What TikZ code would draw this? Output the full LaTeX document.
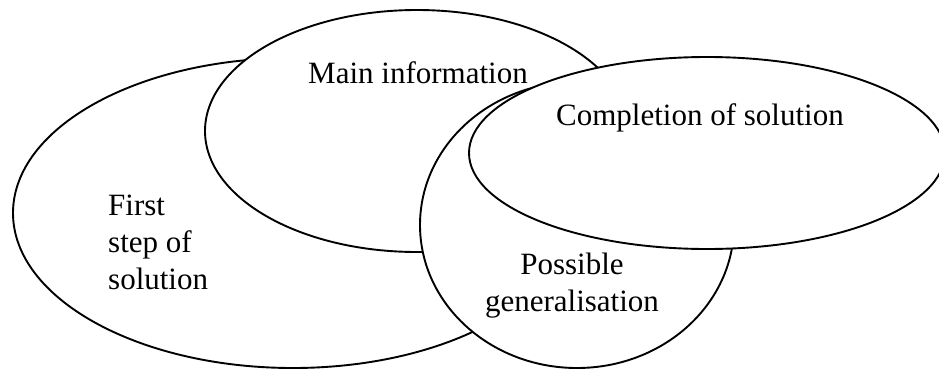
\documentclass[tikz,border=0pt]{standalone}
\usepackage{fontspec}
\setmainfont{Liberation Serif}
\begin{document}
\begin{tikzpicture}[x=1pt,y=-1pt,
  blob/.style={draw=black,fill=white,line width=1.9pt},
  lbl/.style={font=\fontsize{31}{37}\selectfont,inner sep=0pt}]
\useasboundingbox[fill=white] (0,0) rectangle (939,370);
% ellipses, back to front
\filldraw[blob] (293,213) ellipse [x radius=280pt, y radius=155pt];
\filldraw[blob] (417,131) ellipse [x radius=212pt, y radius=121pt];
\filldraw[blob] (577,225) ellipse [x radius=157pt, y radius=143pt];
\filldraw[blob] (707,153) ellipse [x radius=238pt, y radius=96pt];
% labels
\node[lbl,anchor=base] (main) at (418,83) {Main information};
\node[lbl,anchor=base] (compl) at (700,125) {Completion of solution};
\node[lbl,anchor=base,align=center] (gen) at (572,311) {Possible\\generalisation};
\node[lbl,anchor=base west,align=left] (first) at (108,289) {First\\step of\\solution};
\end{tikzpicture}
\end{document}
